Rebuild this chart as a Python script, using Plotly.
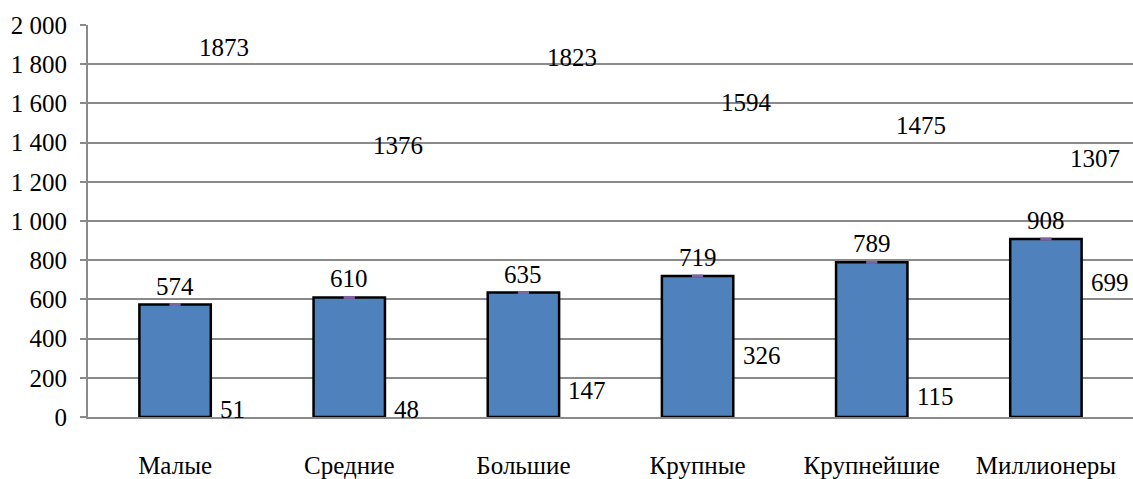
import plotly.graph_objects as go

# Категории городов и показатели
categories = ["Малые", "Средние", "Большие", "Крупные", "Крупнейшие", "Миллионеры"]
avg_values = [574, 610, 635, 719, 789, 908]
max_values = [1873, 1376, 1823, 1594, 1475, 1307]
min_values = [51, 48, 147, 326, 115, 699]

FONT = "Times New Roman"
GRID = "#8a8a8a"

fig = go.Figure()

# Столбцы средних значений
fig.add_trace(go.Bar(
    x=categories, y=avg_values,
    marker=dict(color="#4F81BD", line=dict(color="black", width=2.5)),
    width=0.41, showlegend=False, hoverinfo="x+y",
))

# Маркеры на вершинах столбцов
fig.add_trace(go.Scatter(
    x=categories, y=avg_values, mode="markers",
    marker=dict(symbol="line-ew", size=8, line=dict(color="#8064A2", width=3)),
    showlegend=False, hoverinfo="skip",
))

annotations = []
for cat, a, mx, mn in zip(categories, avg_values, max_values, min_values):
    # среднее — над столбцом
    annotations.append(dict(x=cat, y=a, text=str(a), showarrow=False,
                            xanchor="center", yanchor="bottom", yshift=3))
    # максимум
    annotations.append(dict(x=cat, y=mx, text=str(mx), showarrow=False,
                            xanchor="center", yanchor="middle", xshift=49,
                            yshift=2))
    # минимум
    annotations.append(dict(x=cat, y=mn, text=str(mn), showarrow=False,
                            xanchor="left", yanchor="middle", xshift=43,
                            yshift=-2))

fig.update_layout(
    width=1133, height=479,
    margin=dict(l=88, r=0, t=25, b=57),
    paper_bgcolor="white", plot_bgcolor="white",
    font=dict(family=FONT, size=24, color="black"),
    separators=", ",
    annotations=annotations,
    bargap=0.59,
)
fig.update_annotations(font=dict(family=FONT, size=25, color="black"))

fig.update_xaxes(
    showline=True, linecolor=GRID, linewidth=2,
    showgrid=False, ticks="", ticklabelstandoff=25,
    tickfont=dict(family=FONT, size=25, color="black"),
)
fig.update_yaxes(
    range=[0, 2000], dtick=200, tickformat=",d",
    showgrid=True, gridcolor=GRID, gridwidth=1.5,
    showline=True, linecolor=GRID, linewidth=2,
    ticks="outside", ticklen=6, tickcolor=GRID, tickwidth=1.5,
    ticklabelstandoff=8, zeroline=False,
    tickfont=dict(family=FONT, size=25, color="black"),
)

fig.write_html("out.html")
